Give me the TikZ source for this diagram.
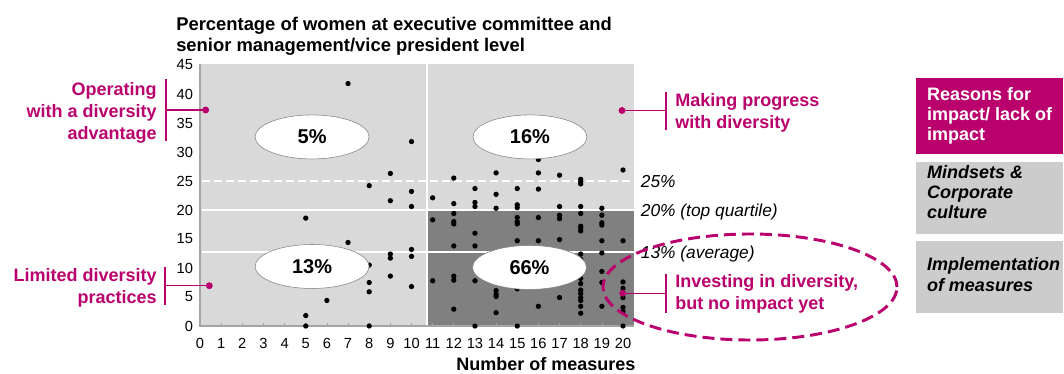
\documentclass[tikz,border=0pt]{standalone}
\usepackage{fontspec}
\setmainfont{Liberation Sans}
\usepackage{tikz}
\usetikzlibrary{shapes.geometric}

\definecolor{Berry}{RGB}{186,0,108}
\definecolor{PlotGray}{RGB}{217,217,217}
\definecolor{DarkGray}{RGB}{128,128,128}
\definecolor{BoxGray}{RGB}{204,204,204}
\definecolor{AxisGray}{RGB}{165,165,165}

\tikzset{
  labtext/.style={font=\fontsize{13.5}{16.5}\selectfont\bfseries,text=Berry,inner sep=0pt},
  share/.style={ellipse,draw=DarkGray,fill=white,minimum width=85.5pt,minimum height=33pt,
    inner sep=0pt,font=\fontsize{15}{17}\selectfont\bfseries},
  bracket/.style={draw=Berry,line width=1.5pt},
  lead/.style={draw=Berry,line width=1.1pt},
  ticklab/.style={font=\fontsize{11}{12}\selectfont,inner sep=0pt},
  levellab/.style={font=\fontsize{13}{15}\selectfont\itshape,inner sep=0pt,anchor=base west},
  sidebox/.style={minimum width=110.25pt,inner sep=0pt},
  boxtext/.style={font=\fontsize{13.5}{15}\selectfont\bfseries,align=left,inner sep=0pt,anchor=west}
}

\begin{document}
\begin{tikzpicture}[x=0.75pt,y=-0.75pt]
\useasboundingbox (0,0) rectangle (1064,374);
% title
\node[font=\fontsize{13.8}{15.75}\selectfont\bfseries,align=left,inner sep=0pt,anchor=north west]
  (title) at (176,17) {Percentage of women at executive committee and\\senior management/vice president level};
\coordinate (origin) at (200,326);
% plot
\begin{scope}[shift={(origin)},x=15.8625pt,y=4.35pt]
\fill[PlotGray] (0,0) rectangle (20.5,45.2);
\fill[DarkGray] (10.72,0) rectangle (20.5,20);
\draw[white,line width=1.2pt] (10.72,0) -- (10.72,45.2);
\draw[white,line width=1.2pt] (0.1,20) -- (20.5,20);
\draw[white,line width=1.2pt] (0.1,12.8) -- (20.5,12.8);
\draw[white,line width=1.2pt,dash pattern=on 6pt off 3pt] (0.1,25) -- (20.5,25);
\draw[AxisGray,line width=.8pt] (0,45.2) -- (0,0) -- (20.5,0);
\draw[AxisGray,line width=.5pt] (1,0) -- ++(0,0.5) (2,0) -- ++(0,0.5) (3,0) -- ++(0,0.5) (4,0) -- ++(0,0.5)
  (5,0) -- ++(0,0.5) (6,0) -- ++(0,0.5) (7,0) -- ++(0,0.5) (8,0) -- ++(0,0.5) (9,0) -- ++(0,0.5)
  (10,0) -- ++(0,0.5) (11,0) -- ++(0,0.5) (12,0) -- ++(0,0.5) (13,0) -- ++(0,0.5) (14,0) -- ++(0,0.5)
  (15,0) -- ++(0,0.5) (16,0) -- ++(0,0.5) (17,0) -- ++(0,0.5) (18,0) -- ++(0,0.5) (19,0) -- ++(0,0.5)
  (20,0) -- ++(0,0.5);
% axis labels
\node[ticklab,anchor=east] (yl0) at (-0.32,0) {0}; \node[ticklab,anchor=east] (yl5) at (-0.32,5) {5};
\node[ticklab,anchor=east] (yl10) at (-0.32,10) {10}; \node[ticklab,anchor=east] (yl15) at (-0.32,15) {15};
\node[ticklab,anchor=east] (yl20) at (-0.32,20) {20}; \node[ticklab,anchor=east] (yl25) at (-0.32,25) {25};
\node[ticklab,anchor=east] (yl30) at (-0.32,30) {30}; \node[ticklab,anchor=east] (yl35) at (-0.32,35) {35};
\node[ticklab,anchor=east] (yl40) at (-0.32,40) {40}; \node[ticklab,anchor=east] (yl45) at (-0.32,45) {45};
\node[ticklab] (xl0) at (0,-3) {0}; \node[ticklab] (xl1) at (1,-3) {1}; \node[ticklab] (xl2) at (2,-3) {2};
\node[ticklab] (xl3) at (3,-3) {3}; \node[ticklab] (xl4) at (4,-3) {4}; \node[ticklab] (xl5) at (5,-3) {5};
\node[ticklab] (xl6) at (6,-3) {6}; \node[ticklab] (xl7) at (7,-3) {7}; \node[ticklab] (xl8) at (8,-3) {8};
\node[ticklab] (xl9) at (9,-3) {9}; \node[ticklab] (xl10) at (10,-3) {10}; \node[ticklab] (xl11) at (11,-3) {11};
\node[ticklab] (xl12) at (12,-3) {12}; \node[ticklab] (xl13) at (13,-3) {13}; \node[ticklab] (xl14) at (14,-3) {14};
\node[ticklab] (xl15) at (15,-3) {15}; \node[ticklab] (xl16) at (16,-3) {16}; \node[ticklab] (xl17) at (17,-3) {17};
\node[ticklab] (xl18) at (18,-3) {18}; \node[ticklab] (xl19) at (19,-3) {19}; \node[ticklab] (xl20) at (20,-3) {20};
% companies
\fill (5,18.6) circle (2pt); \fill (5,1.8) circle (2pt); \fill (5,0) circle (2pt);
\fill (6,4.4) circle (2pt);
\fill (7,41.8) circle (2pt); \fill (7,14.4) circle (2pt);
\fill (8,24.2) circle (2pt); \fill (8,10.5) circle (2pt); \fill (8,7.5) circle (2pt);
\fill (8,5.9) circle (2pt); \fill (8,0) circle (2pt);
\fill (9,26.3) circle (2pt); \fill (9,21.6) circle (2pt); \fill (9,12.4) circle (2pt);
\fill (9,11.7) circle (2pt); \fill (9,8.6) circle (2pt);
\fill (10,31.8) circle (2pt); \fill (10,23.2) circle (2pt); \fill (10,20.6) circle (2pt);
\fill (10,13.2) circle (2pt); \fill (10,12) circle (2pt); \fill (10,6.8) circle (2pt);
\fill (11,22.1) circle (2pt); \fill (11,18.3) circle (2pt); \fill (11,7.8) circle (2pt);
\fill (12,25.5) circle (2pt); \fill (12,21.1) circle (2pt); \fill (12,19.4) circle (2pt);
\fill (12,18) circle (2pt); \fill (12,17.6) circle (2pt); \fill (12,13.8) circle (2pt);
\fill (12,8.6) circle (2pt); \fill (12,7.9) circle (2pt); \fill (12,2.9) circle (2pt);
\fill (13,23.7) circle (2pt); \fill (13,21.3) circle (2pt); \fill (13,20.6) circle (2pt);
\fill (13,16) circle (2pt); \fill (13,13.8) circle (2pt); \fill (13,7.8) circle (2pt);
\fill (13,0) circle (2pt);
\fill (14,26.4) circle (2pt); \fill (14,22.7) circle (2pt); \fill (14,20.3) circle (2pt);
\fill (14,6.1) circle (2pt); \fill (14,5.5) circle (2pt); \fill (14,5.1) circle (2pt);
\fill (14,2.3) circle (2pt);
\fill (15,23.7) circle (2pt); \fill (15,20.9) circle (2pt); \fill (15,20.4) circle (2pt);
\fill (15,18.7) circle (2pt); \fill (15,18) circle (2pt); \fill (15,17.6) circle (2pt);
\fill (15,14.7) circle (2pt); \fill (15,6.4) circle (2pt); \fill (15,0) circle (2pt);
\fill (16,28.7) circle (2pt); \fill (16,26.4) circle (2pt); \fill (16,23.6) circle (2pt);
\fill (16,18.7) circle (2pt); \fill (16,14.7) circle (2pt); \fill (16,3.4) circle (2pt);
\fill (17,26) circle (2pt); \fill (17,20.6) circle (2pt); \fill (17,19.1) circle (2pt);
\fill (17,18.5) circle (2pt); \fill (17,14.9) circle (2pt); \fill (17,4.9) circle (2pt);
\fill (18,25.3) circle (2pt); \fill (18,24.9) circle (2pt); \fill (18,24.5) circle (2pt);
\fill (18,20.6) circle (2pt); \fill (18,19.4) circle (2pt); \fill (18,17.2) circle (2pt);
\fill (18,16.9) circle (2pt); \fill (18,16.4) circle (2pt); \fill (18,12.4) circle (2pt);
\fill (18,11.5) circle (2pt); \fill (18,10.3) circle (2pt); \fill (18,8.2) circle (2pt);
\fill (18,7.3) circle (2pt); \fill (18,6.2) circle (2pt); \fill (18,5.6) circle (2pt);
\fill (18,4.9) circle (2pt); \fill (18,4.4) circle (2pt); \fill (18,3.4) circle (2pt);
\fill (18,2.2) circle (2pt);
\fill (19,20.3) circle (2pt); \fill (19,19.1) circle (2pt); \fill (19,17.8) circle (2pt);
\fill (19,17.4) circle (2pt); \fill (19,14.7) circle (2pt); \fill (19,12.6) circle (2pt);
\fill (19,9.4) circle (2pt); \fill (19,7.5) circle (2pt); \fill (19,3.4) circle (2pt);
\fill (20,26.9) circle (2pt); \fill (20,14.7) circle (2pt); \fill (20,7.6) circle (2pt);
\fill (20,6.5) circle (2pt); \fill (20,5.6) circle (2pt); \fill (20,4.9) circle (2pt);
\fill (20,3.2) circle (2pt); \fill (20,2.5) circle (2pt); \fill (20,0) circle (2pt);
% quadrant shares
\node[share] (shareTL) at (5.3,32.6) {5\%};
\node[share] (shareTR) at (15.6,32.6) {16\%};
\node[share] (shareBL) at (5.3,10.26) {13\%};
\node[share] (shareBR) at (15.58,10.1) {66\%};
\end{scope}
\node[font=\fontsize{13.5}{16}\selectfont\bfseries,inner sep=0pt] (xtitle) at (546,364) {Number of measures};
% level labels
\node[levellab] (lvl25) at (640.7,188) {25\%};
\node[levellab] (lvl20) at (640.7,216.7) {20\% (top quartile)};
\node[levellab] (lvl13) at (640.7,258.3) {13\% (average)};
% segment labels
\node[labtext,align=right,anchor=east] (opLbl) at (157,113) {Operating\\with a diversity\\advantage};
\node[labtext,align=right,anchor=east] (ltdLbl) at (157,287.5) {Limited diversity\\practices};
\node[labtext,align=left,anchor=west] (mkpLbl) at (675,112.5) {Making progress\\with diversity};
\node[labtext,align=left,anchor=west] (invLbl) at (675,293.5) {Investing in diversity,\\but no impact yet};
\coordinate (opTop) at (166,79); \coordinate (opBot) at (166,141); \coordinate (opMid) at (166,110);
\coordinate (opDot) at (205.7,110);
\coordinate (ltdTop) at (165,267); \coordinate (ltdBot) at (165,305); \coordinate (ltdMid) at (165,285.7);
\coordinate (ltdDot) at (209.3,285.7);
\coordinate (mkpTop) at (666,92); \coordinate (mkpBot) at (666,130); \coordinate (mkpMid) at (666,110.5);
\coordinate (mkpDot) at (622,110.5);
\coordinate (invTop) at (666,274); \coordinate (invBot) at (666,313); \coordinate (invMid) at (666,293.3);
\coordinate (invDot) at (622.7,293.3);
\draw[bracket] (opTop) -- (opBot); \draw[lead] (opMid) -- (opDot);
\draw[bracket] (ltdTop) -- (ltdBot); \draw[lead] (ltdMid) -- (ltdDot);
\draw[bracket] (mkpTop) -- (mkpBot); \draw[lead] (mkpMid) -- (mkpDot);
\draw[bracket] (invTop) -- (invBot); \draw[lead] (invMid) -- (invDot);
\fill[Berry] (opDot) circle (2.6pt); \fill[Berry] (ltdDot) circle (2.6pt);
\fill[Berry] (mkpDot) circle (2.6pt); \fill[Berry] (invDot) circle (2.6pt);
% focus ring
\draw[Berry,line width=2.2pt,dash pattern=on 9pt off 4.5pt] (750,287) ellipse [x radius=110.25pt,y radius=39.75pt];
% side boxes
\node[sidebox,fill=Berry,minimum height=57pt] (rsnBox) at (989.5,116.3) {};
\node[sidebox,fill=BoxGray,minimum height=54.2pt] (mndBox) at (989.5,197.85) {};
\node[sidebox,fill=BoxGray,minimum height=54.2pt] (impBox) at (989.5,277.15) {};
\node[boxtext,text=white] (rsnTxt) at ([xshift=8.25pt]rsnBox.west) {Reasons for\\impact/ lack of\\impact};
\node[boxtext,font=\fontsize{13.5}{15}\selectfont\bfseries\itshape] (mndTxt) at ([xshift=8.25pt,yshift=4.5pt]mndBox.west) {Mindsets \&\\Corporate\\culture};
\node[boxtext,font=\fontsize{13.5}{15.75}\selectfont\bfseries\itshape] (impTxt) at ([xshift=8.25pt,yshift=2.3pt]impBox.west) {Implementation\\of measures};
\end{tikzpicture}
\end{document}
